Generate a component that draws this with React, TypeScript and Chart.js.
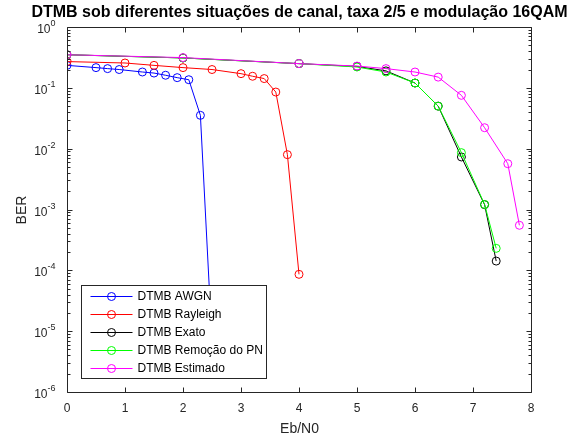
import { useEffect, useRef } from "react";
import { Chart, registerables } from "chart.js";

Chart.register(...registerables);

// ---- data ----
const seriesNames = [
  "DTMB AWGN",
  "DTMB Rayleigh",
  "DTMB Exato",
  "DTMB Remoção do PN",
  "DTMB Estimado",
];
const seriesColors = ["#0000ff", "#ff0000", "#000000", "#00ff00", "#ff00ff"];

const awgnX = [0, 0.5, 0.7, 0.9, 1.3, 1.5, 1.7, 1.9, 2.1, 2.3, 2.5];
const awgnBER = [0.234, 0.215, 0.207, 0.2, 0.182, 0.175, 0.161, 0.147, 0.136, 0.0353, 7e-6];

const rayX = [0, 1, 1.5, 2, 2.5, 3, 3.2, 3.4, 3.6, 3.8, 4];
const rayBER = [0.27, 0.256, 0.234, 0.215, 0.2, 0.171, 0.155, 0.142, 0.0853, 0.00797, 8.6e-5];

const exatoX = [0, 2, 4, 5, 5.5, 6, 6.4, 6.8, 7.2, 7.4];
const exatoBER = [0.35, 0.31, 0.25, 0.225, 0.19, 0.12, 0.05, 0.0073, 0.0012, 0.000142];

const remX = [0, 2, 4, 5, 5.5, 6, 6.4, 6.8, 7.2, 7.4];
const remBER = [0.35, 0.31, 0.25, 0.22, 0.182, 0.12, 0.05, 0.0086, 0.00121, 0.00023];

const estX = [0, 2, 4, 5, 5.5, 6, 6.4, 6.8, 7.2, 7.6, 7.8];
const estBER = [0.35, 0.314, 0.25, 0.228, 0.207, 0.182, 0.15, 0.0753, 0.0221, 0.00566, 0.00055];

const xTicks = [0, 1, 2, 3, 4, 5, 6, 7, 8];
const yTickExponents = [0, -1, -2, -3, -4, -5, -6];

const titleText = "DTMB sob diferentes situações de canal, taxa 2/5 e modulação 16QAM";
const xLabel = "Eb/N0";
const yLabel = "BER";

const FONT = "'Liberation Sans', Arial, Helvetica, sans-serif";
const AXIS_COLOR = "#262626";

const allX = [awgnX, rayX, exatoX, remX, estX];
const allY = [awgnBER, rayBER, exatoBER, remBER, estBER];

const matlabPlugin = {
  id: "matlabAxes",
  afterDatasetsDraw(chart: any) {
    const ctx: CanvasRenderingContext2D = chart.ctx;
    const { left, right, top, bottom } = chart.chartArea;
    const xs = chart.scales.x;
    const ys = chart.scales.y;
    const L = Math.round(left) + 0.5;
    const R = Math.round(right) + 0.5;
    const T = Math.round(top) + 0.5;
    const B = Math.round(bottom) + 0.5;
    ctx.save();
    ctx.strokeStyle = AXIS_COLOR;
    ctx.lineWidth = 1;
    ctx.beginPath();
    ctx.rect(L, T, R - L, B - T);
    ctx.stroke();

    // x ticks
    ctx.beginPath();
    for (const v of xTicks) {
      const px = Math.round(xs.getPixelForValue(v)) + 0.5;
      ctx.moveTo(px, B);
      ctx.lineTo(px, B - 5);
      ctx.moveTo(px, T);
      ctx.lineTo(px, T + 5);
    }
    // y major & minor ticks
    for (const e of yTickExponents) {
      const py = Math.round(ys.getPixelForValue(Math.pow(10, e))) + 0.5;
      ctx.moveTo(L, py);
      ctx.lineTo(L + 5, py);
      ctx.moveTo(R, py);
      ctx.lineTo(R - 5, py);
      if (e < 0) {
        for (let m = 2; m <= 9; m++) {
          const pm = Math.round(ys.getPixelForValue(m * Math.pow(10, e))) + 0.5;
          ctx.moveTo(L, pm);
          ctx.lineTo(L + 3, pm);
          ctx.moveTo(R, pm);
          ctx.lineTo(R - 3, pm);
        }
      }
    }
    ctx.stroke();

    // x tick labels
    ctx.fillStyle = AXIS_COLOR;
    ctx.font = `12px ${FONT}`;
    ctx.textAlign = "center";
    ctx.textBaseline = "top";
    for (const v of xTicks) {
      const px = xs.getPixelForValue(v);
      ctx.fillText(String(v), px, B + 10);
    }
    // y tick labels 10^e
    for (const e of yTickExponents) {
      const py = ys.getPixelForValue(Math.pow(10, e));
      ctx.font = `9px ${FONT}`;
      const expStr = e === 0 ? "0" : "-" + String(-e);
      const ew = ctx.measureText(expStr).width;
      const exRight = L - 12;
      ctx.textAlign = "right";
      ctx.textBaseline = "alphabetic";
      ctx.fillText(expStr, exRight, py - 1);
      ctx.font = `12px ${FONT}`;
      ctx.fillText("10", exRight - ew, py + 6);
    }

    // axis labels
    ctx.font = `14px ${FONT}`;
    ctx.textAlign = "center";
    ctx.textBaseline = "middle";
    ctx.fillText(xLabel, (L + R) / 2, B + 37);
    ctx.save();
    ctx.translate(22, (T + B) / 2);
    ctx.rotate(-Math.PI / 2);
    ctx.fillText(yLabel, 0, 0);
    ctx.restore();

    // title
    ctx.fillStyle = "#000000";
    ctx.font = `bold 16px ${FONT}`;
    ctx.fillText(titleText, (L + R) / 2, 13);

    // legend
    ctx.font = `12px ${FONT}`;
    let maxW = 0;
    for (const n of seriesNames) maxW = Math.max(maxW, ctx.measureText(n).width);
    const bx = Math.round(left) + 14 + 0.5;
    const by = 285.5;
    const rowH = 18;
    const lineX0 = bx + 9;
    const lineX1 = bx + 51;
    const textX = bx + 56;
    const bw = Math.round(textX + maxW + 4 - bx);
    const bh = 93;
    ctx.fillStyle = "#ffffff";
    ctx.fillRect(bx, by, bw, bh);
    ctx.strokeStyle = AXIS_COLOR;
    ctx.strokeRect(bx, by, bw, bh);
    seriesNames.forEach((n, i) => {
      const cy = by + 11 + i * rowH;
      ctx.strokeStyle = seriesColors[i];
      ctx.lineWidth = 1;
      ctx.beginPath();
      ctx.moveTo(lineX0, cy);
      ctx.lineTo(lineX1, cy);
      ctx.stroke();
      ctx.beginPath();
      ctx.arc((lineX0 + lineX1) / 2, cy, 4, 0, Math.PI * 2);
      ctx.stroke();
      ctx.fillStyle = "#000000";
      ctx.textAlign = "left";
      ctx.textBaseline = "middle";
      ctx.fillText(n, textX, cy);
    });
    ctx.restore();
  },
};

export default function App() {
  const ref = useRef<HTMLCanvasElement | null>(null);
  useEffect(() => {
    if (!ref.current) return;
    const datasets = seriesNames.map((name, i) => ({
      label: name,
      data: allX[i].map((x, j) => ({ x, y: allY[i][j] })),
      borderColor: seriesColors[i],
      backgroundColor: "rgba(0,0,0,0)",
      borderWidth: 1,
      pointStyle: "circle",
      pointRadius: 4,
      pointBorderWidth: 1,
      pointBorderColor: seriesColors[i],
      pointBackgroundColor: "rgba(0,0,0,0)",
      tension: 0,
      fill: false,
      order: seriesNames.length - i,
    }));
    const chart = new Chart(ref.current, {
      type: "line",
      data: { datasets },
      options: {
        animation: false,
        responsive: false,
        maintainAspectRatio: false,
        layout: { padding: { left: 67, top: 27, right: 44, bottom: 50 } },
        plugins: {
          legend: { display: false },
          title: { display: false },
          tooltip: { enabled: false },
        },
        scales: {
          x: { type: "linear", min: 0, max: 8, display: false },
          y: { type: "logarithmic", min: 1e-6, max: 1, display: false },
        },
      },
      plugins: [matlabPlugin],
    } as any);
    return () => chart.destroy();
  }, []);
  return (
    <div style={{ position: "absolute", left: 0, top: 0, width: 575, height: 442, background: "#fff" }}>
      <canvas ref={ref} width={575} height={442} style={{ display: "block" }} />
    </div>
  );
}
